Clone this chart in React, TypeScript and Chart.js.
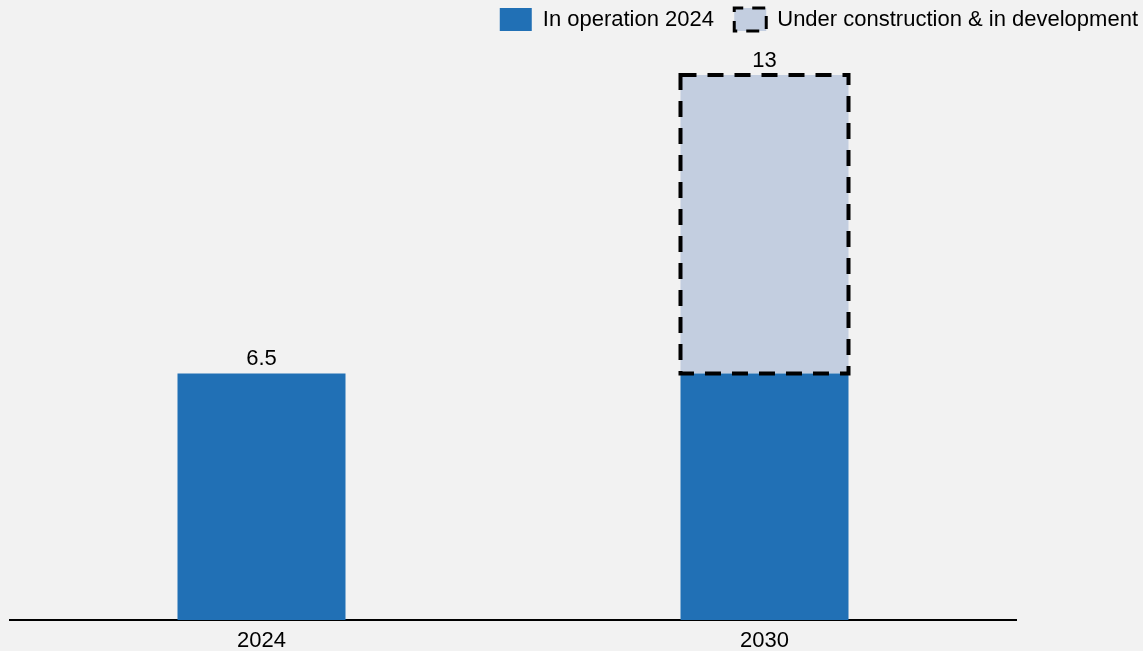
import React, { useEffect, useRef } from "react";
import { Chart, registerables } from "chart.js";

Chart.register(...registerables);

const categories = ["2024", "2030"];
const inOperation = [6.5, 6.5];
const underConstruction = [null, 6.5];
const legendLabels = ["In operation 2024", "Under construction & in development"];

const BLUE = "#2170b5";
const LIGHT = "#c3cee0";
const BG = "#f2f2f2";
const FONT = "'Liberation Sans', Arial, Helvetica, sans-serif";

const bgPlugin = {
  id: "bg",
  beforeDraw(chart: any) {
    const { ctx, width, height } = chart;
    ctx.save();
    ctx.fillStyle = BG;
    ctx.fillRect(0, 0, width, height);
    ctx.restore();
  },
};

const dashedPlugin = {
  id: "dashedBorder",
  afterDatasetsDraw(chart: any) {
    const { ctx } = chart;
    const meta = chart.getDatasetMeta(1);
    meta.data.forEach((el: any, i: number) => {
      const v = chart.data.datasets[1].data[i];
      if (v === null || v === undefined) return;
      const { x, y, base, width } = el.getProps(["x", "y", "base", "width"], true);
      ctx.save();
      ctx.setLineDash([16, 11]);
      ctx.lineWidth = 4;
      ctx.strokeStyle = "#000";
      ctx.strokeRect(x - width / 2, y, width, base - y);
      ctx.restore();
    });
  },
};

const totalsPlugin = {
  id: "totals",
  afterDatasetsDraw(chart: any) {
    const { ctx } = chart;
    categories.forEach((_, i) => {
      let topY = Infinity;
      let xPos = 0;
      let total = 0;
      chart.data.datasets.forEach((ds: any, d: number) => {
        const v = ds.data[i];
        if (v === null || v === undefined) return;
        total += v;
        const el = chart.getDatasetMeta(d).data[i];
        if (el && el.y < topY) {
          topY = el.y;
          xPos = el.x;
        }
      });
      ctx.save();
      ctx.fillStyle = "#000";
      ctx.font = `22px ${FONT}`;
      ctx.textAlign = "center";
      ctx.textBaseline = "alphabetic";
      ctx.fillText(String(Math.round(total * 10) / 10), xPos, topY - 8);
      ctx.restore();
    });
  },
};

export default function App() {
  const ref = useRef<HTMLCanvasElement | null>(null);

  useEffect(() => {
    document.body.style.margin = "0";
    document.body.style.background = BG;
    Chart.defaults.font.family = FONT;
    const chart = new Chart(ref.current as HTMLCanvasElement, {
      type: "bar",
      data: {
        labels: categories,
        datasets: [
          {
            label: legendLabels[0],
            data: inOperation,
            backgroundColor: BLUE,
            borderWidth: 0,
            barPercentage: 0.668,
            categoryPercentage: 0.5,
          },
          {
            label: legendLabels[1],
            data: underConstruction as any,
            backgroundColor: LIGHT,
            borderWidth: 0,
            barPercentage: 0.668,
            categoryPercentage: 0.5,
          },
        ],
      },
      options: {
        animation: false,
        responsive: true,
        maintainAspectRatio: false,
        layout: { padding: { left: 10, right: -3, top: 0, bottom: -10 } },
        plugins: {
          tooltip: { enabled: false },
          legend: {
            position: "top",
            align: "end",
            labels: {
              color: "#000",
              font: { size: 22, family: FONT },
              boxWidth: 32,
              boxHeight: 23,
              padding: 8,
              generateLabels: () => [
                {
                  text: legendLabels[0] + "  ",
                  fillStyle: BLUE,
                  strokeStyle: BLUE,
                  lineWidth: 0,
                  datasetIndex: 0,
                  hidden: false,
                } as any,
                {
                  text: legendLabels[1],
                  fillStyle: LIGHT,
                  strokeStyle: "#000",
                  lineWidth: 3,
                  lineDash: [13, 9],
                  lineDashOffset: 4,
                  datasetIndex: 1,
                  hidden: false,
                } as any,
              ],
            },
          },
        },
        scales: {
          x: {
            stacked: true,
            grid: { display: false, drawTicks: false },
            border: { display: true, color: "#000", width: 2 },
            ticks: {
              color: "#000",
              font: { size: 22, family: FONT, lineHeight: 1.05 },
              padding: 9,
            },
          },
          y: {
            stacked: true,
            position: "right",
            min: 1.134,
            max: 13.741,
            grid: { display: false, drawTicks: false },
            border: { display: false },
            ticks: { display: false },
            afterFit: (s: any) => {
              s.width = 130;
            },
          },
        },
      },
      plugins: [bgPlugin, dashedPlugin, totalsPlugin],
    });
    return () => chart.destroy();
  }, []);

  return (
    <div style={{ position: "absolute", left: 0, top: 0, width: 1143, height: 651 }}>
      <canvas ref={ref} />
    </div>
  );
}
